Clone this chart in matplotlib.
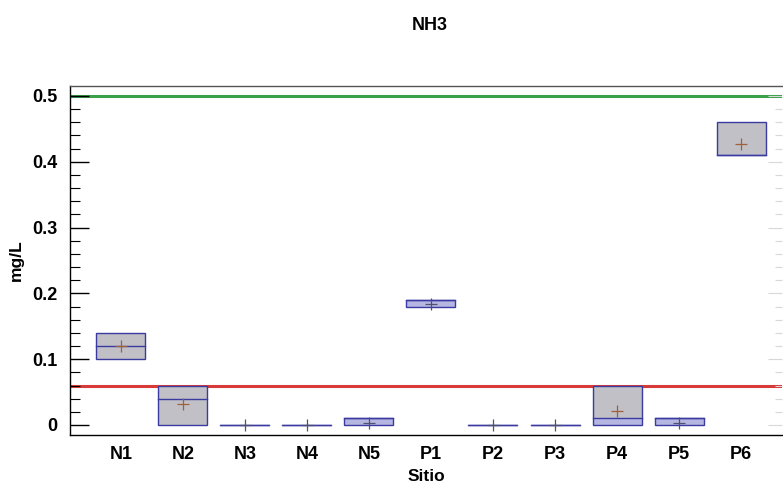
import matplotlib
matplotlib.use("Agg")
import matplotlib.pyplot as plt
from matplotlib.patches import Rectangle
from matplotlib.ticker import MultipleLocator

plt.rcParams['font.family'] = ['Liberation Sans', 'DejaVu Sans']
plt.rcParams['font.weight'] = 'bold'

# NH3 concentration per site (mg/L)
sites = ["N1", "N2", "N3", "N4", "N5", "P1", "P2", "P3", "P4", "P5", "P6"]
q1 = [0.10, 0.00, 0.0, 0.0, 0.00, 0.18, 0.0, 0.0, 0.00, 0.00, 0.41]
median = [0.12, 0.04, 0.0, 0.0, 0.01, 0.19, 0.0, 0.0, 0.01, 0.01, 0.41]
q3 = [0.14, 0.06, 0.0, 0.0, 0.01, 0.19, 0.0, 0.0, 0.06, 0.01, 0.46]
mean = [0.12, 0.032, 0.0, 0.0, 0.003, 0.184, 0.0, 0.0, 0.022, 0.003, 0.427]

upper_limit = 0.5
lower_limit = 0.06

GRAY = "#c0c0c6"
LAV = "#b6b6e2"
EDGE = "#3a3aa0"
lower_colors = [GRAY, GRAY, LAV, LAV, LAV, LAV, LAV, LAV, LAV, LAV, LAV]
upper_colors = [GRAY] * len(sites)

fig = plt.figure(figsize=(7.83, 4.83), dpi=100)
ax = fig.add_axes([70 / 783, (483 - 435) / 483, 712 / 783, (435 - 86) / 483])

width = 0.79
for i, s in enumerate(sites):
    x0 = i - width / 2
    if median[i] > q1[i]:
        ax.add_patch(Rectangle((x0, q1[i]), width, median[i] - q1[i],
                               facecolor=lower_colors[i], edgecolor='none', zorder=2))
    if q3[i] > median[i]:
        ax.add_patch(Rectangle((x0, median[i]), width, q3[i] - median[i],
                               facecolor=upper_colors[i], edgecolor='none', zorder=2))
    ax.add_patch(Rectangle((x0, q1[i]), width, q3[i] - q1[i],
                           facecolor='none', edgecolor=EDGE, linewidth=1.0, zorder=3))
    ax.plot([x0, x0 + width], [median[i], median[i]], color=EDGE, lw=1.0, zorder=3)
    ax.plot([i], [mean[i]], marker='+', markersize=9, markeredgewidth=0.9,
            color="#a0603a" if q3[i] - q1[i] > 0.02 else "#505070", zorder=4)

ax.axhline(upper_limit, color="#3aa14a", lw=2.2, zorder=1)
ax.axhline(lower_limit, color="#d83a3a", lw=2.2, zorder=1)

ax.set_xlim(-0.82, 10.66)
ax.set_ylim(-0.0152, 0.515)
ax.set_xticks(range(len(sites)))
ax.set_xticklabels(sites, fontsize=13, fontweight='bold')
ax.tick_params(axis='x', length=0, pad=8)

ax.yaxis.set_major_locator(MultipleLocator(0.1))
ax.yaxis.set_minor_locator(MultipleLocator(0.02))
ax.set_yticks([0, 0.1, 0.2, 0.3, 0.4, 0.5])
ax.set_yticklabels(["0", "0.1", "0.2", "0.3", "0.4", "0.5"], fontsize=13, fontweight='bold')
ax.tick_params(axis='y', which='major', direction='in', length=14, width=1, pad=9)
ax.tick_params(axis='y', which='minor', direction='in', length=7, width=0.8)

# faint ticks along the right edge
ax_r = ax.twinx()
ax_r.set_ylim(ax.get_ylim())
ax_r.yaxis.set_major_locator(MultipleLocator(0.1))
ax_r.yaxis.set_minor_locator(MultipleLocator(0.02))
ax_r.tick_params(axis='y', which='both', direction='in', labelright=False,
                 color="#d8d8d8", width=0.8)
ax_r.tick_params(axis='y', which='major', length=10)
ax_r.tick_params(axis='y', which='minor', length=5)
for side in ax_r.spines:
    ax_r.spines[side].set_visible(False)

for side in ['top', 'bottom', 'left']:
    ax.spines[side].set_linewidth(1.0)
ax.spines['top'].set_color("#555555")
ax.spines['right'].set_visible(False)

ax.set_xlabel("Sitio", fontsize=12.5, fontweight='bold', labelpad=4)
ax.set_ylabel("mg/L", fontsize=12.5, fontweight='bold', labelpad=6)
fig.text(430 / 783, 1 - 26 / 483, "NH3", ha='center', va='center', fontsize=13, fontweight='bold')

fig.savefig("out.png", dpi=100, facecolor='white')
